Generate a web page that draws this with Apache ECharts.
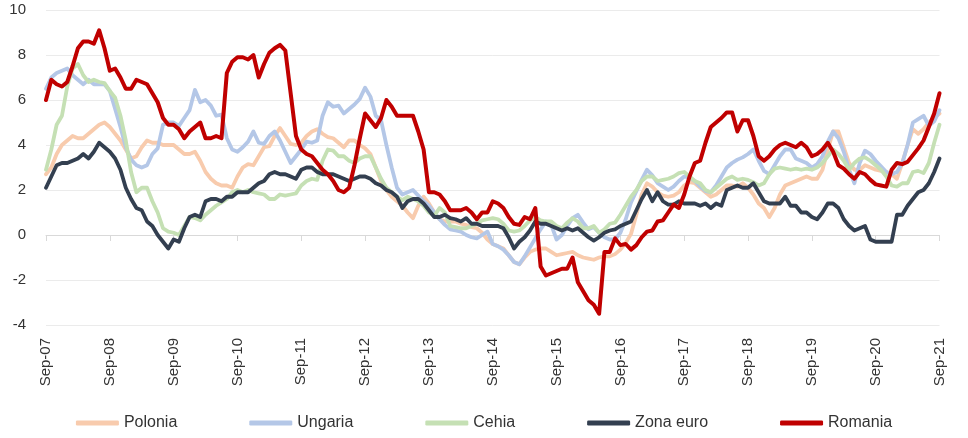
<!DOCTYPE html>
<html>
<head>
<meta charset="utf-8">
<script src="https://cdn.jsdelivr.net/npm/echarts@6/dist/echarts.min.js"></script>
<style>
html,body{margin:0;padding:0;background:#fff;}
#chart{width:968px;height:438px;}
</style>
</head>
<body>
<div id="chart"></div>
<script>
// Monthly categories Sep-07 .. Sep-21
var monthNames = ['Sep','Oct','Nov','Dec','Jan','Feb','Mar','Apr','May','Jun','Jul','Aug'];
var categories = [];
for (var k = 0; k < 169; k++) {
  var yr = 7 + Math.floor((k + 8) / 12);
  categories.push(monthNames[k % 12] + '-' + (yr < 10 ? '0' + yr : '' + yr));
}

var polonia = [
  2.7, 3.0, 3.6, 4.0, 4.2, 4.4, 4.3, 4.3, 4.5, 4.7, 4.9, 5.0,
  4.8, 4.5, 4.2, 3.8, 3.4, 3.5, 3.9, 4.2, 4.1, 4.1, 4.0, 4.0,
  4.0, 3.8, 3.6, 3.6, 3.7, 3.3, 2.8, 2.5, 2.3, 2.2, 2.2, 2.1,
  2.6, 3.0, 3.15, 3.1, 3.5, 3.9, 3.95, 4.4, 4.75, 4.4, 4.05, 4.0,
  4.1, 4.4, 4.6, 4.7, 4.5, 4.35, 4.3, 4.1, 3.9, 4.2, 4.2, 4.0,
  3.85, 3.6, 3.0, 2.4, 2.0, 1.7, 1.5, 1.3, 1.0, 0.75, 1.3, 1.7,
  1.4, 1.0, 0.7, 0.6, 0.6, 0.6, 0.5, 0.45, 0.35, 0.3, 0.1, -0.2,
  -0.4, -0.5, -0.6, -0.9, -1.2, -1.3, -1.0, -0.75, -0.65, -0.6, -0.6, -0.75,
  -0.9, -0.85, -0.8, -0.75, -0.9, -1.0, -1.05, -1.1, -1.0, -0.95, -0.95, -0.85,
  -0.65, -0.35, 0.05, 0.9, 1.8, 2.3, 2.15, 1.9, 1.75, 1.7, 1.75, 1.9,
  2.2, 2.35, 2.3, 2.1, 1.9, 1.7, 1.8, 2.0, 2.2, 2.2, 2.15, 2.3,
  2.1, 1.8, 1.4, 1.2, 0.8, 1.2, 1.8, 2.2, 2.3, 2.4, 2.5, 2.6,
  2.5, 2.5, 2.9, 3.8, 4.6, 4.6, 3.9, 3.2, 2.9, 2.9, 3.1, 3.0,
  2.9, 2.85, 2.8, 2.7, 2.5, 3.2, 4.0, 4.7, 4.5, 4.7, 5.0, 5.2,
  5.4
];

var ungaria = [
  6.5, 7.0, 7.2, 7.3, 7.4, 7.1, 6.9, 6.7, 6.9, 6.7, 6.7, 6.7,
  6.4, 5.6, 4.8, 3.9, 3.35, 3.1, 3.0, 3.1, 3.6, 3.85, 4.9, 5.0,
  5.0, 4.85, 5.2, 5.55, 6.45, 5.9, 6.0, 5.75, 5.3, 5.35, 4.3, 3.8,
  3.7, 3.9, 4.15, 4.6, 4.1, 4.05, 4.4, 4.6, 4.2, 3.7, 3.2, 3.5,
  3.8, 4.15, 4.1, 4.2, 5.3, 5.9, 5.7, 5.75, 5.4, 5.6, 5.8, 6.05,
  6.55, 6.15, 5.3, 5.1, 4.0, 3.0, 2.1, 1.8, 1.9, 2.0, 1.75, 1.5,
  1.3, 1.0, 0.7, 0.45, 0.25, 0.2, 0.15, 0.0, -0.1, -0.15, 0.0, 0.15,
  -0.4, -0.5, -0.65, -0.9, -1.2, -1.3, -0.95, -0.55, -0.15, 0.25, 0.6, 0.45,
  -0.2, 0.0, 0.4, 0.75, 0.9, 0.55, 0.25, 0.35, 0.1, -0.1, -0.2, -0.2,
  0.1, 0.7, 1.45, 1.95, 2.45, 2.9, 2.65, 2.3, 2.15, 2.0, 2.15, 2.4,
  2.6, 2.55, 2.4, 2.15, 1.95, 1.9, 2.2, 2.6, 3.0, 3.2, 3.35, 3.45,
  3.6, 3.8, 3.3, 2.85, 2.7, 3.1, 3.5, 3.8, 3.8, 3.4, 3.3, 3.2,
  3.0, 3.15, 3.5, 4.15, 4.6, 4.3, 3.7, 2.9, 2.3, 3.2, 3.75, 3.6,
  3.3, 3.05, 2.8, 2.7, 2.8, 3.2, 4.0, 5.0, 5.15, 5.3, 4.85, 5.05,
  5.55
];

var cehia = [
  2.9, 3.8, 4.9, 5.3, 6.6, 7.4, 7.6, 7.1, 6.8, 6.9, 6.8, 6.75,
  6.4, 6.1, 5.3, 4.2, 2.8, 1.9, 2.1, 2.1, 1.5, 1.0, 0.3, 0.15,
  0.1, 0.0, 0.4, 0.8, 0.75, 0.65, 0.9, 1.1, 1.3, 1.45, 1.6, 1.9,
  2.0, 1.9, 2.0, 1.9, 1.85, 1.8, 1.6, 1.6, 1.8, 1.75, 1.8, 1.85,
  2.2, 2.4, 2.5, 2.45, 3.3, 3.8, 3.75, 3.5, 3.5, 3.3, 3.2, 3.4,
  3.5, 3.5, 3.0, 2.5, 2.1, 1.9, 1.7, 1.55, 1.7, 1.6, 1.5, 1.3,
  1.0, 0.85, 1.2, 1.0, 0.4, 0.35, 0.3, 0.3, 0.4, 0.5, 0.65, 0.7,
  0.75, 0.7, 0.5, 0.2, 0.15, 0.2, 0.4, 0.65, 0.8, 0.65, 0.6, 0.6,
  0.4, 0.3, 0.55, 0.75, 0.6, 0.3, 0.3, 0.4, 0.1, 0.25, 0.5, 0.55,
  0.9, 1.3, 1.7, 2.0, 2.4, 2.6, 2.6, 2.4, 2.45, 2.5, 2.6, 2.75,
  2.8, 2.6, 2.4, 2.3, 2.0, 1.9, 2.1, 2.3, 2.5, 2.6, 2.45, 2.5,
  2.45, 2.35, 2.2, 2.3, 2.7, 2.95, 3.0, 2.95, 2.9, 2.95, 2.9, 2.95,
  2.9, 3.0, 3.2, 3.5, 3.8, 3.6, 3.3, 2.9, 3.2, 3.4, 3.45, 3.3,
  3.1, 2.9, 2.6, 2.2, 2.15, 2.3, 2.3, 2.8, 2.85, 2.75, 3.2, 4.1,
  4.9
];

var zonaEuro = [
  2.1, 2.6, 3.1, 3.2, 3.2, 3.3, 3.4, 3.6, 3.4, 3.7, 4.1, 3.9,
  3.7, 3.4, 2.9, 2.1, 1.6, 1.2, 1.1, 0.6, 0.4, 0.0, -0.3, -0.6,
  -0.2, -0.3, 0.3, 0.8, 0.9, 0.8, 1.5, 1.6, 1.6, 1.5, 1.7, 1.7,
  1.9, 1.9, 1.9, 2.1, 2.3, 2.4, 2.7, 2.8, 2.7, 2.7, 2.6, 2.5,
  2.9, 3.0, 3.0, 2.8, 2.7, 2.7, 2.7, 2.6, 2.5, 2.4, 2.5, 2.6,
  2.6, 2.5, 2.3, 2.2, 2.0, 1.9, 1.7, 1.2, 1.5, 1.6, 1.6, 1.4,
  1.1, 0.8, 0.8, 0.9, 0.75, 0.7, 0.6, 0.75, 0.5, 0.5, 0.4, 0.4,
  0.4, 0.4, 0.3, -0.1, -0.6, -0.3, -0.1, 0.2, 0.6, 0.5, 0.5, 0.4,
  0.3, 0.2, 0.3, 0.2, 0.3, 0.1, -0.1, -0.25, -0.1, 0.1, 0.2, 0.25,
  0.4, 0.5, 0.6, 1.1, 1.6, 2.0, 1.5, 1.9, 1.5, 1.35, 1.35, 1.5,
  1.4, 1.4, 1.4, 1.3, 1.4, 1.2, 1.4, 1.3, 2.0, 2.1, 2.2, 2.1,
  2.1, 2.3, 1.9, 1.5, 1.4, 1.4, 1.4, 1.7, 1.3, 1.3, 1.0, 1.0,
  0.8, 0.7, 1.0, 1.4, 1.4, 1.2, 0.7, 0.4, 0.2, 0.3, 0.4, -0.2,
  -0.3, -0.3, -0.3, -0.3, 0.9, 0.9, 1.3, 1.6, 1.9, 2.0, 2.3, 2.8,
  3.4
];

var romania = [
  6.0, 6.9, 6.7, 6.6, 6.8, 7.5, 8.3, 8.6, 8.6, 8.5, 9.1, 8.3,
  7.3, 7.4, 7.0, 6.5, 6.5, 6.9, 6.8, 6.7, 6.3, 5.9, 5.2, 4.9,
  4.9, 4.7, 4.3, 4.6, 4.8, 5.0, 4.3, 4.3, 4.4, 4.3, 7.2, 7.7,
  7.9, 7.9, 7.8, 8.0, 7.0, 7.6, 8.1, 8.3, 8.45, 8.2, 6.3, 4.4,
  3.8, 3.6, 3.5, 3.2, 2.9, 2.7, 2.4, 2.0, 1.9, 2.1, 3.1, 4.3,
  5.4, 5.1, 4.8, 5.2, 6.0, 5.7, 5.3, 5.3, 5.3, 5.3, 4.6, 3.8,
  1.9, 1.9, 1.8, 1.5, 1.1, 1.1, 1.1, 1.2, 1.0, 0.7, 1.0, 1.0,
  1.5, 1.4, 1.2, 0.8, 0.5, 0.45, 0.8, 0.7, 1.2, -1.4, -1.8, -1.7,
  -1.6, -1.5, -1.5, -1.0, -2.1, -2.5, -2.9, -3.1, -3.5, -0.75, -0.75, -0.15,
  -0.45, -0.4, -0.65, -0.45, -0.1, 0.15, 0.2, 0.6, 0.65, 1.0, 1.35, 1.2,
  1.8, 2.6, 3.2, 3.3, 4.1, 4.8, 5.0, 5.2, 5.45, 5.45, 4.6, 5.1,
  5.1, 4.4, 3.5, 3.3, 3.5, 3.8, 4.0, 4.1, 4.0, 3.9, 4.1, 3.9,
  3.5, 3.6, 3.8, 4.1, 3.7, 3.1, 2.95, 2.7, 2.5, 2.8, 2.7, 2.45,
  2.25, 2.2, 2.15, 2.9, 3.2, 3.15, 3.25, 3.55, 3.85, 4.2, 4.8, 5.4,
  6.3
];

var yTicks = { min: -4, max: 10, interval: 2 };

var FONT = '"Liberation Sans", Arial, sans-serif';
var TXT = '#333333';

function lineSeries(name, data, color, width) {
  return {
    name: name, type: 'line', data: data, xAxisIndex: 0,
    symbol: 'none', smooth: false,
    lineStyle: { color: color, width: width, join: 'round', cap: 'round' },
    itemStyle: { color: color }
  };
}

var chart = echarts.init(document.getElementById('chart'));
chart.setOption({
  animation: false,
  backgroundColor: '#ffffff',
  textStyle: { fontFamily: FONT },
  grid: { left: 46, right: 28.5, top: 10, bottom: 113, containLabel: false },
  legend: {
    bottom: 2, left: 'center',
    icon: 'roundRect', itemWidth: 43, itemHeight: 5, itemGap: 72,
    textStyle: { fontSize: 16, color: TXT, fontFamily: FONT },
    data: ['Polonia', 'Ungaria', 'Cehia', 'Zona euro', 'Romania']
  },
  xAxis: [
    {
      type: 'category', data: categories, boundaryGap: false,
      axisLine: { show: false, onZero: false },
      axisTick: { show: false },
      splitLine: { show: false },
      axisLabel: { interval: 11, rotate: 90, fontSize: 15, color: TXT, margin: 13, fontFamily: FONT }
    },
    {
      type: 'category', data: categories, boundaryGap: false, position: 'bottom',
      axisLine: { show: true, onZero: true, onZeroAxisIndex: 0, lineStyle: { color: '#d9d9d9', width: 1 } },
      axisTick: { show: true, interval: 11, length: 6, lineStyle: { color: '#d9d9d9' } },
      axisLabel: { show: false },
      splitLine: { show: false }
    }
  ],
  yAxis: {
    type: 'value', min: yTicks.min, max: yTicks.max, interval: yTicks.interval,
    axisLine: { show: false }, axisTick: { show: false },
    axisLabel: { fontSize: 15, color: TXT, margin: 20, fontFamily: FONT },
    splitLine: { lineStyle: { color: '#ebebeb', width: 1 } }
  },
  series: [
    lineSeries('Polonia', polonia, '#F8CBAD', 3.8),
    lineSeries('Ungaria', ungaria, '#B4C7E7', 3.8),
    lineSeries('Cehia', cehia, '#C5E0B4', 3.8),
    lineSeries('Zona euro', zonaEuro, '#333F50', 3.8),
    lineSeries('Romania', romania, '#C00000', 4)
  ]
});
</script>
</body>
</html>
